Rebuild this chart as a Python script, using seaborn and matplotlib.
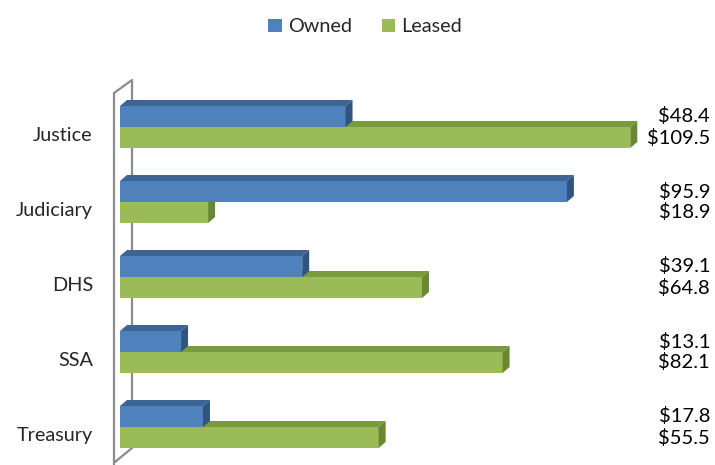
import matplotlib
matplotlib.use("Agg")
import matplotlib.pyplot as plt
import seaborn as sns
import pandas as pd
from matplotlib.patches import Polygon
from matplotlib.lines import Line2D
import matplotlib.transforms as mtransforms

agencies = ["Justice", "Judiciary", "DHS", "SSA", "Treasury"]
owned = [48.4, 95.9, 39.1, 13.1, 17.8]
leased = [109.5, 18.9, 64.8, 82.1, 55.5]
series = ["Owned", "Leased"]

front = ["#4f81bd", "#9bbb59"]
top_c = ["#3d6494", "#7a9a3e"]
side_c = ["#30537f", "#6a8734"]

sns.set_theme(style="white")
plt.rcParams["font.family"] = ["Lato", "DejaVu Sans"]

df = pd.DataFrame({
    "Agency": agencies * 2,
    "Value": owned + leased,
    "Type": [series[0]] * len(agencies) + [series[1]] * len(agencies),
})

W, H = 715, 465
fig = plt.figure(figsize=(W / 100, H / 100), dpi=100)
fig.patch.set_facecolor("white")
ax = fig.add_axes([120 / W, 0, 590 / W, 405 / H])
ax.set_facecolor("none")

sns.barplot(data=df, y="Agency", x="Value", hue="Type", orient="h",
            palette=front, width=0.56, ax=ax, legend=True, linewidth=0,
            saturation=1)

xmax = 590 / 4.66
ax.set_xlim(0, xmax)
y_top = (60 - 127) / 75.0
y_bot = (465 - 127) / 75.0
ax.set_ylim(y_bot, y_top)

for s in ax.spines.values():
    s.set_visible(False)
ax.set_xticks([])
ax.set_xlabel("")
ax.set_ylabel("")
ax.tick_params(axis="y", length=0, pad=19.5, labelsize=14.3)
offset = mtransforms.ScaledTranslation(0, -7 / 100, fig.dpi_scale_trans)
for lab in ax.get_yticklabels():
    lab.set_transform(lab.get_transform() + offset)

# pixel -> data scale
p0 = ax.transData.transform((0, 0))
p1 = ax.transData.transform((1, 1))
sx = p1[0] - p0[0]
sy = p1[1] - p0[1]
dx = 7 / sx
dy = 6 / sy  # upward on screen

for i, cont in enumerate(ax.containers):
    z = 3 if i == 0 else 2
    for bar in cont:
        bar.set_zorder(z)
        x0 = bar.get_x()
        x1 = x0 + bar.get_width()
        ya = bar.get_y()
        yb = ya + bar.get_height()
        ytop_d = min(ya, yb)
        ybot_d = max(ya, yb)
        topface = Polygon([(x0, ytop_d), (x1, ytop_d), (x1 + dx, ytop_d + dy), (x0 + dx, ytop_d + dy)],
                          closed=True, facecolor=top_c[i], edgecolor="none", zorder=z)
        sideface = Polygon([(x1, ytop_d), (x1, ybot_d), (x1 + dx, ybot_d + dy), (x1 + dx, ytop_d + dy)],
                           closed=True, facecolor=side_c[i], edgecolor="none", zorder=z)
        ax.add_patch(topface)
        ax.add_patch(sideface)

# value labels
blend = mtransforms.blended_transform_factory(ax.transAxes, ax.transData)
for i, cont in enumerate(ax.containers):
    vals = owned if i == 0 else leased
    for bar, v in zip(cont, vals):
        yc = bar.get_y() + bar.get_height() / 2
        ax.text(1.0, yc, f"${v:.1f}", transform=blend, ha="right", va="center",
                fontsize=14.5, color="black", zorder=5)

# 3D wall lines
def fx(x):
    return x / W

def fy(y):
    return 1 - y / H

wall_pts = [(114, 465), (114, 93), (132, 80), (132, 448), (115, 462)]
ln = Line2D([fx(p[0]) for p in wall_pts], [fy(p[1]) for p in wall_pts],
            transform=fig.transFigure, color="#8c8c8c", lw=1.6,
            clip_on=False, zorder=0.5)
ax.add_line(ln)

handles, labels = ax.get_legend_handles_labels()
ax.get_legend().remove()
fig.legend(handles, labels, loc="center", bbox_to_anchor=(365 / W, fy(27)),
           ncol=2, frameon=False, fontsize=14.3, handlelength=0.7,
           handleheight=0.7, handletextpad=0.3, columnspacing=1.5)

fig.savefig("out.png", dpi=100)
